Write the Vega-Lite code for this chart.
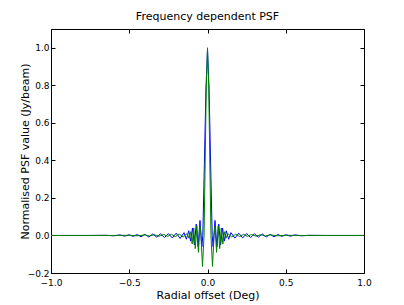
{
  "$schema": "https://vega.github.io/schema/vega-lite/v6.json",
  "width": 313,
  "height": 244,
  "autosize": "none",
  "padding": {"left": 51, "top": 29, "right": 40, "bottom": 32},
  "background": "white",
  "title": {"text": "Frequency dependent PSF", "font": "DejaVu Sans", "fontSize": 11, "fontWeight": "normal", "color": "black", "offset": 7},
  "config": {
    "view": {"stroke": "black", "strokeWidth": 1},
    "axis": {"grid": false, "domain": false, "tickColor": "black", "tickSize": -4, "labelFont": "DejaVu Sans", "labelFontSize": 9, "labelColor": "black", "titleFont": "DejaVu Sans", "titleFontSize": 11, "titleFontWeight": "normal", "titleColor": "black", "labelOverlap": false, "labelBound": false, "labelFlush": false}
  },
  "data": {"values": [
    {"s":"a","x":-1.0,"y":0},{"s":"a","x":-0.75,"y":0},{"s":"a","x":-0.65,"y":0.001},{"s":"a","x":-0.6,"y":-0.002},{"s":"a","x":-0.56,"y":0.003},{"s":"a","x":-0.53,"y":-0.004},{"s":"a","x":-0.5,"y":0.004},{"s":"a","x":-0.475,"y":-0.005},{"s":"a","x":-0.45,"y":0.005},{"s":"a","x":-0.425,"y":-0.007},{"s":"a","x":-0.4,"y":0.006},{"s":"a","x":-0.375,"y":-0.008},{"s":"a","x":-0.35,"y":0.008},{"s":"a","x":-0.325,"y":-0.009},{"s":"a","x":-0.3,"y":0.009},{"s":"a","x":-0.275,"y":-0.011},{"s":"a","x":-0.25,"y":0.01},{"s":"a","x":-0.225,"y":-0.013},{"s":"a","x":-0.2,"y":0.012},{"s":"a","x":-0.175,"y":-0.016},{"s":"a","x":-0.15,"y":0.015},{"s":"a","x":-0.135,"y":-0.02},{"s":"a","x":-0.12,"y":0.025},{"s":"a","x":-0.108,"y":-0.03},{"s":"a","x":-0.096,"y":0.04},{"s":"a","x":-0.084,"y":-0.05},{"s":"a","x":-0.072,"y":0.06},{"s":"a","x":-0.06,"y":-0.06},{"s":"a","x":-0.048,"y":0.08},{"s":"a","x":-0.036,"y":-0.06},{"s":"a","x":-0.03,"y":0.0},{"s":"a","x":-0.02,"y":0.38},{"s":"a","x":-0.01,"y":0.78},{"s":"a","x":0,"y":0.99},
    {"s":"a","x":0.01,"y":0.78},{"s":"a","x":0.02,"y":0.38},{"s":"a","x":0.03,"y":0.0},{"s":"a","x":0.036,"y":-0.06},{"s":"a","x":0.048,"y":0.08},{"s":"a","x":0.06,"y":-0.06},{"s":"a","x":0.072,"y":0.06},{"s":"a","x":0.084,"y":-0.05},{"s":"a","x":0.096,"y":0.04},{"s":"a","x":0.108,"y":-0.03},{"s":"a","x":0.12,"y":0.025},{"s":"a","x":0.135,"y":-0.02},{"s":"a","x":0.15,"y":0.015},{"s":"a","x":0.175,"y":-0.014},{"s":"a","x":0.2,"y":0.012},{"s":"a","x":0.225,"y":-0.013},{"s":"a","x":0.25,"y":0.01},{"s":"a","x":0.275,"y":-0.011},{"s":"a","x":0.3,"y":0.009},{"s":"a","x":0.325,"y":-0.009},{"s":"a","x":0.35,"y":0.008},{"s":"a","x":0.375,"y":-0.008},{"s":"a","x":0.4,"y":0.006},{"s":"a","x":0.425,"y":-0.007},{"s":"a","x":0.45,"y":0.005},{"s":"a","x":0.475,"y":-0.005},{"s":"a","x":0.5,"y":0.004},{"s":"a","x":0.53,"y":-0.004},{"s":"a","x":0.56,"y":0.003},{"s":"a","x":0.6,"y":-0.002},{"s":"a","x":0.65,"y":0.001},{"s":"a","x":0.75,"y":0},{"s":"a","x":1.0,"y":0},
    {"s":"b","x":-1.0,"y":0},{"s":"b","x":-0.6,"y":0},{"s":"b","x":-0.5,"y":0.001},{"s":"b","x":-0.45,"y":-0.002},{"s":"b","x":-0.4,"y":0.003},{"s":"b","x":-0.37,"y":-0.003},{"s":"b","x":-0.34,"y":0.004},{"s":"b","x":-0.31,"y":-0.004},{"s":"b","x":-0.28,"y":0.005},{"s":"b","x":-0.255,"y":-0.005},{"s":"b","x":-0.23,"y":0.006},{"s":"b","x":-0.205,"y":-0.006},{"s":"b","x":-0.18,"y":0.007},{"s":"b","x":-0.155,"y":-0.008},{"s":"b","x":-0.13,"y":0.01},{"s":"b","x":-0.118,"y":-0.015},{"s":"b","x":-0.108,"y":0.02},{"s":"b","x":-0.098,"y":-0.045},{"s":"b","x":-0.088,"y":0.04},{"s":"b","x":-0.078,"y":-0.07},{"s":"b","x":-0.068,"y":0.05},{"s":"b","x":-0.058,"y":-0.09},{"s":"b","x":-0.048,"y":0.05},{"s":"b","x":-0.042,"y":0.0},{"s":"b","x":-0.032,"y":-0.165},{"s":"b","x":-0.022,"y":0.0},{"s":"b","x":-0.016,"y":0.33},{"s":"b","x":-0.008,"y":0.78},{"s":"b","x":0,"y":1.0},
    {"s":"b","x":0.008,"y":0.78},{"s":"b","x":0.016,"y":0.33},{"s":"b","x":0.022,"y":0.0},{"s":"b","x":0.032,"y":-0.165},{"s":"b","x":0.042,"y":0.0},{"s":"b","x":0.048,"y":0.05},{"s":"b","x":0.058,"y":-0.09},{"s":"b","x":0.068,"y":0.05},{"s":"b","x":0.078,"y":-0.07},{"s":"b","x":0.088,"y":0.04},{"s":"b","x":0.098,"y":-0.045},{"s":"b","x":0.108,"y":0.02},{"s":"b","x":0.118,"y":-0.015},{"s":"b","x":0.13,"y":0.01},{"s":"b","x":0.155,"y":-0.008},{"s":"b","x":0.18,"y":0.007},{"s":"b","x":0.205,"y":-0.006},{"s":"b","x":0.23,"y":0.006},{"s":"b","x":0.255,"y":-0.005},{"s":"b","x":0.28,"y":0.005},{"s":"b","x":0.31,"y":-0.004},{"s":"b","x":0.34,"y":0.004},{"s":"b","x":0.37,"y":-0.003},{"s":"b","x":0.4,"y":0.003},{"s":"b","x":0.45,"y":-0.002},{"s":"b","x":0.5,"y":0.001},{"s":"b","x":0.6,"y":0},{"s":"b","x":1.0,"y":0}
  ]},
  "layer": [
    {
      "mark": {"type": "line", "strokeWidth": 1, "clip": true},
      "encoding": {
        "x": {"field": "x", "type": "quantitative", "scale": {"domain": [-1, 1], "nice": false, "zero": false}, "axis": {"values": [-1, -0.5, 0, 0.5, 1], "format": ".1f", "title": "Radial offset (Deg)", "labelPadding": 9, "titlePadding": 2}},
        "y": {"field": "y", "type": "quantitative", "scale": {"domain": [-0.2, 1.1], "nice": false, "zero": false}, "axis": {"values": [-0.2, 0, 0.2, 0.4, 0.6, 0.8, 1.0], "format": ".1f", "title": "Normalised PSF value (Jy/beam)", "labelPadding": 6, "labelAlign": "right", "titlePadding": -3}},
        "color": {"field": "s", "type": "nominal", "scale": {"domain": ["a", "b"], "range": ["#0000ff", "#008000"]}, "legend": null}
      }
    },
    {
      "mark": {"type": "line", "strokeWidth": 1, "opacity": 0},
      "encoding": {
        "x": {"field": "x", "type": "quantitative", "axis": {"orient": "top", "values": [-1, -0.5, 0, 0.5, 1], "labels": false, "title": null}},
        "y": {"field": "y", "type": "quantitative", "axis": {"orient": "right", "values": [-0.2, 0, 0.2, 0.4, 0.6, 0.8, 1.0], "labels": false, "title": null}},
        "detail": {"field": "s"}
      }
    }
  ],
  "resolve": {"axis": {"x": "independent", "y": "independent"}}
}
